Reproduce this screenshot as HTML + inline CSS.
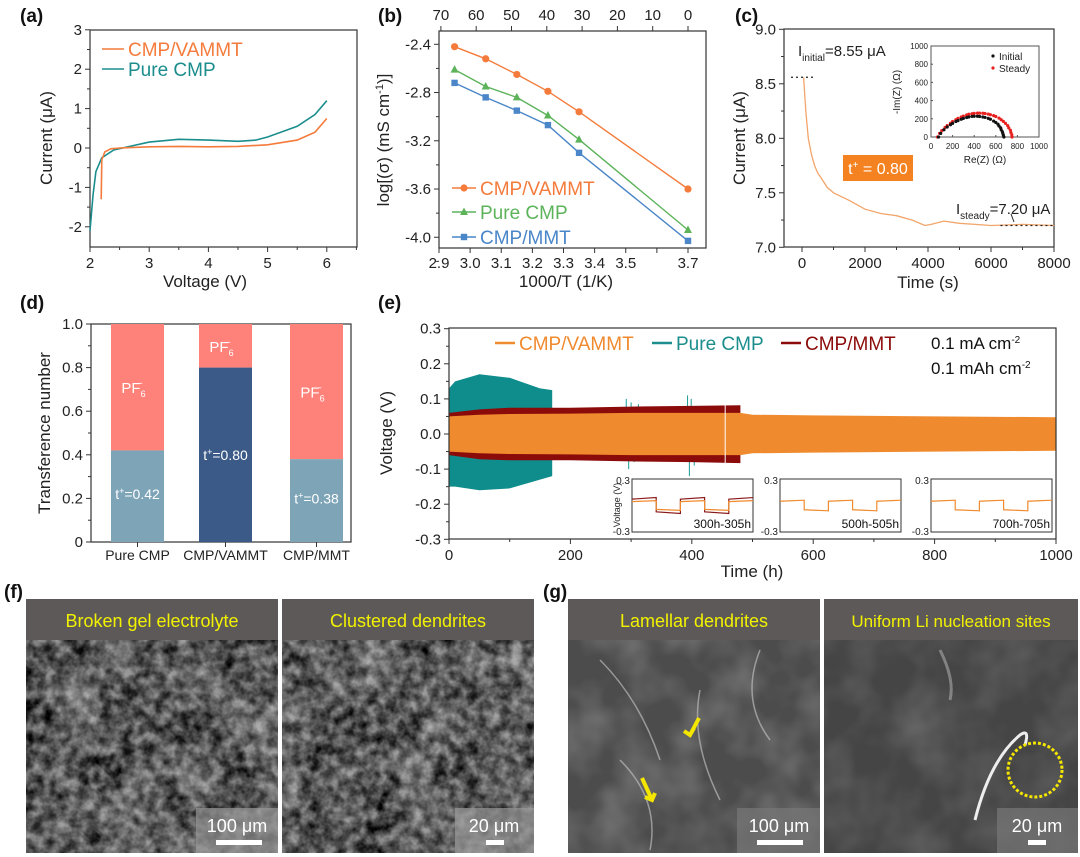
<!DOCTYPE html>
<html><head><meta charset="utf-8">
<style>
html,body{margin:0;padding:0;background:#fff;}
svg{display:block;font-family:"Liberation Sans",Arial,sans-serif;}
.tk{font-size:15px;fill:#222;}
.ti{font-size:17px;fill:#222;}
.pl{font-size:19px;font-weight:bold;fill:#111;}
.nar{font-family:"Liberation Sans Narrow","Liberation Sans",sans-serif;}
</style></head>
<body>
<svg id="fig" width="1080" height="857" viewBox="0 0 1080 857" xmlns="http://www.w3.org/2000/svg">
<defs>
<filter id="semA" x="0" y="0" width="100%" height="100%"><feTurbulence type="fractalNoise" baseFrequency="0.09" numOctaves="3" seed="3"/><feColorMatrix type="matrix" values="0 0 0 0 0  0 0 0 0 0  0 0 0 0 0  0 0 0 -1.6 1.3"/></filter>
<filter id="semB" x="0" y="0" width="100%" height="100%"><feTurbulence type="fractalNoise" baseFrequency="0.02" numOctaves="3" seed="7"/><feColorMatrix type="matrix" values="0 0 0 0 1  0 0 0 0 1  0 0 0 0 1  0 0 0 0.7 -0.25"/></filter>
</defs>

<text class="pl" x="20" y="22">(a)</text>
<text class="pl" x="378" y="22">(b)</text>
<text class="pl" x="735" y="22">(c)</text>
<text class="pl" x="20" y="309">(d)</text>
<text class="pl" x="378" y="309">(e)</text>
<text class="pl" x="4" y="598">(f)</text>
<text class="pl" x="543" y="598">(g)</text>

<text class="ti" x="205" y="287" text-anchor="middle">Voltage (V)</text>
<text class="ti" transform="translate(52,138) rotate(-90)" text-anchor="middle">Current (μA)</text>
<text class="ti" x="566" y="287" text-anchor="middle">1000/T (1/K)</text>
<text class="ti" transform="translate(389,140) rotate(-90)" text-anchor="middle">log[(σ) (mS cm<tspan dy="-6" font-size="11">-1</tspan><tspan dy="6">)]</tspan></text>
<text class="ti" x="928" y="288" text-anchor="middle">Time (s)</text>
<text class="ti" transform="translate(745,138) rotate(-90)" text-anchor="middle">Current (μA)</text>
<text class="ti" transform="translate(50,433) rotate(-90)" text-anchor="middle">Transference number</text>
<text class="ti" x="752" y="577" text-anchor="middle">Time (h)</text>
<text class="ti" transform="translate(392,433) rotate(-90)" text-anchor="middle">Voltage (V)</text>

<g id="g-a"></g>
<g id="g-b"></g>
<g id="g-c"></g>
<g id="g-d"></g>
<g id="g-e"></g>

<g>
 <g>
  <rect x="26" y="599" width="252" height="41" fill="#5d5958"/>
  <text x="152" y="627" text-anchor="middle" font-size="18" fill="#f2f200" class="nar">Broken gel electrolyte</text>
  <rect x="26" y="640" width="252" height="213" fill="#8a8a8a"/>
  <rect x="26" y="640" width="252" height="213" filter="url(#semA)"/>
  <rect x="26" y="640" width="252" height="213" filter="url(#semB)"/>
  <rect x="196" y="808" width="82" height="45" fill="#999" opacity="0.7"/>
  <text x="237" y="832" text-anchor="middle" font-size="18" fill="#fff">100 μm</text>
  <rect x="216" y="840" width="46" height="5" fill="#fff"/>
 </g>
 <g>
  <rect x="282" y="599" width="252" height="41" fill="#5d5958"/>
  <text x="408" y="627" text-anchor="middle" font-size="18" fill="#f2f200" class="nar">Clustered dendrites</text>
  <rect x="282" y="640" width="252" height="213" fill="#8d8d8d"/>
  <rect x="282" y="640" width="252" height="213" filter="url(#semA)"/>
  <rect x="282" y="640" width="252" height="213" filter="url(#semB)"/>
  <rect x="455" y="808" width="79" height="45" fill="#999" opacity="0.7"/>
  <text x="494" y="832" text-anchor="middle" font-size="18" fill="#fff">20 μm</text>
  <rect x="486" y="840" width="18" height="5" fill="#fff"/>
 </g>
 <g>
  <rect x="568" y="599" width="252" height="41" fill="#5d5958"/>
  <text x="694" y="627" text-anchor="middle" font-size="18" fill="#f2f200" class="nar">Lamellar dendrites</text>
  <rect x="568" y="640" width="252" height="213" fill="#4c4c4c"/>
  <rect x="568" y="640" width="252" height="213" filter="url(#semB)" opacity="0.6"/>
  <path d="M600 660 Q640 700 660 760 M700 690 Q690 740 720 800 M760 650 Q740 700 770 740 M620 760 Q660 800 650 850" stroke="#bbb" stroke-width="1.5" fill="none" opacity="0.7"/>
  <path d="M699 718 L690 735 M684 731 L690 735 L694 728" stroke="#f5e600" stroke-width="4" fill="none"/>
  <path d="M642 778 L652 800 M645 797 L652 800 L655 793" stroke="#f5e600" stroke-width="4" fill="none"/>
  <rect x="737" y="808" width="83" height="45" fill="#777" opacity="0.7"/>
  <text x="779" y="832" text-anchor="middle" font-size="18" fill="#fff">100 μm</text>
  <rect x="757" y="840" width="46" height="5" fill="#fff"/>
 </g>
 <g>
  <rect x="824" y="599" width="254" height="41" fill="#5d5958"/>
  <text x="951" y="627" text-anchor="middle" font-size="17" fill="#f2f200" class="nar">Uniform Li nucleation sites</text>
  <rect x="824" y="640" width="254" height="213" fill="#454545"/>
  <rect x="824" y="640" width="254" height="213" filter="url(#semB)" opacity="0.4"/>
  <path d="M975 820 Q990 760 1020 735 Q1030 728 1025 745" stroke="#eee" stroke-width="3" fill="none"/>
  <path d="M940 650 Q955 680 950 700" stroke="#aaa" stroke-width="3" fill="none" opacity="0.6"/>
  <circle cx="1035" cy="770" r="27" fill="none" stroke="#f5e600" stroke-width="3" stroke-dasharray="3 2"/>
  <rect x="997" y="808" width="81" height="45" fill="#777" opacity="0.7"/>
  <text x="1037" y="832" text-anchor="middle" font-size="18" fill="#fff">20 μm</text>
  <rect x="1028" y="840" width="18" height="5" fill="#fff"/>
 </g>
</g>
</svg>

<script>
const aVammtV = [2.19,2.2,2.25,2.35,2.5,3,3.5,4,4.5,5,5.5,5.8,6];
const aVammtI = [-1.3,-0.3,-0.1,-0.02,0.0,0.03,0.04,0.03,0.04,0.08,0.2,0.4,0.75];
const aPureV = [2.0,2.05,2.1,2.2,2.4,2.7,3,3.5,4,4.5,4.8,5,5.5,5.8,6];
const aPureI = [-2.1,-1.2,-0.6,-0.25,-0.05,0.05,0.15,0.22,0.2,0.17,0.2,0.28,0.55,0.85,1.2];
const aXTicks = [2,3,4,5,6];
const aYTicks = [-2,-1,0,1,2,3];
const bX = [2.95,3.05,3.15,3.25,3.35,3.7];
const bVammt = [-2.42,-2.52,-2.65,-2.79,-2.96,-3.60];
const bPure = [-2.61,-2.75,-2.84,-2.99,-3.19,-3.94];
const bMmt = [-2.72,-2.84,-2.95,-3.07,-3.30,-4.03];
const bXTicks = [2.9,3.0,3.1,3.2,3.3,3.4,3.5,3.6,3.7];
const bXLabels = ["2.9","3.0","3.1","3.2","3.3","3.4","3.5","","3.7"];
const bYTicks = [-2.4,-2.8,-3.2,-3.6,-4.0];
const bTopTicks = [70,60,50,40,30,20,10,0];
const cT = [50,120,200,300,400,500,600,800,1000,1500,2000,2500,3000,3500,3900,4100,4500,5000,5500,6000,7000,8000];
const cI = [8.56,8.25,8.0,7.85,7.75,7.68,7.64,7.55,7.5,7.43,7.35,7.31,7.29,7.25,7.2,7.21,7.24,7.22,7.21,7.2,7.21,7.2];
const cXTicks = [0,2000,4000,6000,8000];
const cYTicks = [7.0,7.5,8.0,8.5,9.0];
const impInitRe = [70,90,120,150,180,200,230,250,280,300,330,350,380,400,430,450,480,500,530,550,580,600,620,630,645,650,660,665,670,675];
const impInitIm = [0,40,80,110,135,150,170,180,195,205,214,220,226,228,228,225,220,215,205,195,175,160,140,120,100,80,60,40,20,0];
const impSteadyRe = [60,80,100,130,150,180,200,230,250,280,300,330,350,380,400,430,450,480,500,530,550,580,600,630,650,670,690,710,720,735,740,748,750];
const impSteadyIm = [0,40,70,105,125,152,170,190,205,220,230,242,250,256,260,262,262,261,258,252,245,235,225,208,190,172,150,125,100,75,50,25,0];
const inTicks = [0,200,400,600,800,1000];
const dCats = ["Pure CMP","CMP/VAMMT","CMP/MMT"];
const dLi = [0.42,0.80,0.38];
const eOrT = [0,50,100,200,300,400,480,500,600,800,1000];
const eOrHi = [0.05,0.055,0.057,0.058,0.06,0.06,0.06,0.055,0.053,0.05,0.048];
const eOrLo = [-0.05,-0.055,-0.057,-0.058,-0.06,-0.06,-0.06,-0.055,-0.053,-0.05,-0.048];
const eRdT = [0,50,100,200,300,400,480];
const eRdHi = [0.06,0.07,0.075,0.075,0.078,0.08,0.082];
const eRdLo = [-0.06,-0.072,-0.075,-0.075,-0.078,-0.08,-0.083];
const eTlT = [0,10,50,100,150,170];
const eTlHi = [0.13,0.15,0.17,0.16,0.13,0.125];
const eTlLo = [-0.15,-0.15,-0.16,-0.155,-0.13,-0.12];
const eSpikeT = [292,296,300,305,312,393,396,399,404];
const eSpikeV = [0.1,-0.1,0.09,-0.08,0.085,0.11,-0.12,0.1,-0.09];
const eXTicks = [0,200,400,600,800,1000];
const eYTicks = [-0.3,-0.2,-0.1,0.0,0.1,0.2,0.3];
const insetSwitch = [301,302,303,304];
const insetOrange = [0.055,0.06,0.06];
const insetRed = [0.09];
const insetNames = ["300h-305h","500h-505h","700h-705h"];

const NS="http://www.w3.org/2000/svg";
function mk(parent,tag,attrs,txt){const e=document.createElementNS(NS,tag);for(const k in attrs)e.setAttribute(k,attrs[k]);if(txt!==undefined)e.textContent=txt;parent.appendChild(e);return e;}
function pts(xs,ys,fx,fy){return xs.map((x,i)=>fx(x).toFixed(1)+","+fy(ys[i]).toFixed(1)).join(" ");}
function fmt(v,d){return v.toFixed(d);}

(function(){
 const g=document.getElementById('g-a');
 const X=v=>90+(v-2)*59.2, Y=i=>148-i*39.4;
 const box=mk(g,'rect',{x:90,y:30,width:267,height:217,fill:'none',stroke:'#333','stroke-width':1.2});
 
 
 aXTicks.forEach(v=>{mk(g,'line',{x1:X(v),x2:X(v),y1:247,y2:252,stroke:'#333'});
  const t=mk(g,'text',{x:X(v),y:268,'text-anchor':'middle',class:'tk'},String(v));
  
  
  mk(g,'line',{x1:X(v+0.5),x2:X(v+0.5),y1:247,y2:250,stroke:'#333'});});
 aYTicks.forEach(v=>{mk(g,'line',{x1:85,x2:90,y1:Y(v),y2:Y(v),stroke:'#333'});
  const t=mk(g,'text',{x:82,y:Y(v)+5,'text-anchor':'end',class:'tk'},String(v));
  
  
  if(v<3)mk(g,'line',{x1:87,x2:90,y1:Y(v+0.5),y2:Y(v+0.5),stroke:'#333'});});
 const l1=mk(g,'polyline',{points:pts(aPureV,aPureI,X,Y),fill:'none',stroke:'#1b8d8d','stroke-width':1.6});
 
 
 const l2=mk(g,'polyline',{points:pts(aVammtV,aVammtI,X,Y),fill:'none',stroke:'#f47b3b','stroke-width':1.6});
 
 
 mk(g,'line',{x1:102,x2:124,y1:49,y2:49,stroke:'#f47b3b','stroke-width':1.5});
 const lg1=mk(g,'text',{x:128,y:56,'font-size':19,fill:'#f47b3b'},'CMP/VAMMT');
 
 
 mk(g,'line',{x1:102,x2:124,y1:69,y2:69,stroke:'#1b8d8d','stroke-width':1.5});
 const lg2=mk(g,'text',{x:128,y:76,'font-size':19,fill:'#1b8d8d'},'Pure CMP');
 
 
})();

(function(){
 const g=document.getElementById('g-b');
 const X=x=>439+(x-2.9)*311.25, Y=v=>44.3-(v+2.4)*120.6;
 const TX=T=>688-T*3.53;
 const box=mk(g,'rect',{x:439,y:31,width:267,height:217,fill:'none',stroke:'#333','stroke-width':1.2});
 
 
 bXTicks.forEach((v,i)=>{mk(g,'line',{x1:X(v),x2:X(v),y1:248,y2:253,stroke:'#333'});
  const t=mk(g,'text',{x:X(v),y:268,'text-anchor':'middle',class:'tk'},bXLabels[i]);
  
  });
 bTopTicks.forEach(T=>{const x=TX(T);mk(g,'line',{x1:x,x2:x,y1:26,y2:31,stroke:'#333'});
  const t=mk(g,'text',{x:x,y:20,'text-anchor':'middle',class:'tk'},String(T));
  
  });
 bYTicks.forEach(v=>{mk(g,'line',{x1:434,x2:439,y1:Y(v),y2:Y(v),stroke:'#333'});
  mk(g,'line',{x1:436,x2:439,y1:Y(v-0.2),y2:Y(v-0.2),stroke:'#333'});
  const t=mk(g,'text',{x:431,y:Y(v)+5,'text-anchor':'end',class:'tk'},fmt(v,1));
  
  });
 const series=[[bVammt,'#f47b3b','c','cmp-vammt'],[bPure,'#5cb35a','t','pure-cmp'],[bMmt,'#4a86c8','s','cmp-mmt']];
 series.forEach(([ys,col,sh,nm])=>{
  const ln=mk(g,'polyline',{points:pts(bX,ys,X,Y),fill:'none',stroke:col,'stroke-width':1.4});
  
  
  bX.forEach((x,i)=>{const cx=X(x),cy=Y(ys[i]);let m;
   if(sh==='c')m=mk(g,'circle',{cx:cx,cy:cy,r:3.6,fill:col});
   else if(sh==='t')m=mk(g,'polygon',{points:`${cx},${cy-4.5} ${cx-4},${cy+3} ${cx+4},${cy+3}`,fill:col});
   else m=mk(g,'rect',{x:cx-3.2,y:cy-3.2,width:6.4,height:6.4,fill:col});
   
   });
 });
 const leg=[['CMP/VAMMT','#f47b3b','c',188],['Pure CMP','#5cb35a','t',212],['CMP/MMT','#4a86c8','s',237]];
 leg.forEach(([txt,col,sh,y])=>{mk(g,'line',{x1:452,x2:476,y1:y,y2:y,stroke:col,'stroke-width':1.4});
  if(sh==='c')mk(g,'circle',{cx:464,cy:y,r:3.6,fill:col});
  else if(sh==='t')mk(g,'polygon',{points:`464,${y-4.5} 460,${y+3} 468,${y+3}`,fill:col});
  else mk(g,'rect',{x:460.8,y:y-3.2,width:6.4,height:6.4,fill:col});
  const t=mk(g,'text',{x:480,y:y+7,'font-size':19,fill:col},txt);
  
  });
})();

(function(){
 const g=document.getElementById('g-c');
 const X=t=>802+t*0.0315, Y=I=>29.3+(9-I)*109;
 const box=mk(g,'rect',{x:784,y:29,width:270,height:218,fill:'none',stroke:'#333','stroke-width':1.2});
 
 
 cXTicks.forEach(v=>{mk(g,'line',{x1:X(v),x2:X(v),y1:247,y2:252,stroke:'#333'});
  if(v<8000)mk(g,'line',{x1:X(v+1000),x2:X(v+1000),y1:247,y2:250,stroke:'#333'});
  const t=mk(g,'text',{x:X(v),y:268,'text-anchor':'middle',class:'tk'},String(v));
  
  });
 cYTicks.forEach(v=>{mk(g,'line',{x1:779,x2:784,y1:Y(v),y2:Y(v),stroke:'#333'});
  if(v<9)mk(g,'line',{x1:781,x2:784,y1:Y(v+0.25),y2:Y(v+0.25),stroke:'#333'});
  const t=mk(g,'text',{x:776,y:Y(v)+5,'text-anchor':'end',class:'tk'},fmt(v,1));
  
  });
 const cur=mk(g,'polyline',{points:pts(cT,cI,X,Y),fill:'none',stroke:'#f2a56b','stroke-width':1.3});
 
 
 mk(g,'line',{x1:791,x2:816,y1:Y(8.56),y2:Y(8.56),stroke:'#222','stroke-dasharray':'2 3','stroke-width':1.2});
 mk(g,'line',{x1:X(6300),x2:1054,y1:Y(7.2),y2:Y(7.2),stroke:'#222','stroke-dasharray':'2 3','stroke-width':1.2});
 const it=mk(g,'text',{x:798,y:56,'font-size':15,fill:'#222'});it.innerHTML='I<tspan dy="5" font-size="10">initial</tspan><tspan dy="-5">=8.55 μA</tspan>';
 
 
 const st=mk(g,'text',{x:956,y:214,'font-size':15,fill:'#222'});st.innerHTML='I<tspan dy="5" font-size="10">steady</tspan><tspan dy="-5">=7.20 μA</tspan>';
 
 
 mk(g,'line',{x1:1011,x2:1014,y1:214,y2:222,stroke:'#222'});
 const tb=mk(g,'rect',{x:843,y:155,width:70,height:26,fill:'#f58220'});
 
 
 const tt=mk(g,'text',{x:878,y:174,'text-anchor':'middle','font-size':16,fill:'#fff'});tt.innerHTML='t<tspan dy="-6" font-size="10">+</tspan><tspan dy="6"> = 0.80</tspan>';
 const IX=r=>931+r*0.108, IY=z=>137-z*0.091;
 const ib=mk(g,'rect',{x:931,y:46,width:108,height:91,fill:'#fff',stroke:'#555','stroke-width':1});
 
 
 inTicks.forEach(v=>{mk(g,'text',{x:IX(v),y:149,'text-anchor':'middle','font-size':8,fill:'#222'},String(v));
  mk(g,'text',{x:928,y:IY(v)+3,'text-anchor':'end','font-size':8,fill:'#222'},String(v));
  mk(g,'line',{x1:IX(v),x2:IX(v),y1:137,y2:135,stroke:'#555'});mk(g,'line',{x1:931,x2:933,y1:IY(v),y2:IY(v),stroke:'#555'});});
 mk(g,'text',{x:985,y:163,'text-anchor':'middle','font-size':10,fill:'#222'},'Re(Z) (Ω)');
 mk(g,'text',{transform:'translate(900,92) rotate(-90)','text-anchor':'middle','font-size':10,fill:'#222'},'-Im(Z) (Ω)');
 impSteadyRe.forEach((r,i)=>{const d=mk(g,'circle',{cx:IX(r),cy:IY(impSteadyIm[i]),r:1.6,fill:'#e8201e'});
  
  });
 impInitRe.forEach((r,i)=>{const d=mk(g,'circle',{cx:IX(r),cy:IY(impInitIm[i]),r:1.6,fill:'#111'});
  
  });
 mk(g,'circle',{cx:993,cy:56,r:1.6,fill:'#111'});
 mk(g,'text',{x:999,y:60,'font-size':10,fill:'#222'},'Initial');
 mk(g,'circle',{cx:993,cy:68,r:1.6,fill:'#e8201e'});
 mk(g,'text',{x:999,y:72,'font-size':10,fill:'#222'},'Steady');
})();

(function(){
 const g=document.getElementById('g-d');
 const Y=v=>542-v*218, cx=[137.5,225.5,316.5], w=53;
 const box=mk(g,'rect',{x:91,y:324,width:260,height:218,fill:'none',stroke:'#333','stroke-width':1.2});
 
 
 [0,0.2,0.4,0.6,0.8,1.0].forEach(v=>{mk(g,'line',{x1:86,x2:91,y1:Y(v),y2:Y(v),stroke:'#333'});
  if(v<1)mk(g,'line',{x1:88,x2:91,y1:Y(v+0.1),y2:Y(v+0.1),stroke:'#333'});
  const t=mk(g,'text',{x:83,y:Y(v)+5,'text-anchor':'end',class:'tk'},v===0?'0':fmt(v,1));
  
  });
 dCats.forEach((c,i)=>{
  const x=cx[i]-w/2;
  const top=mk(g,'rect',{x:x,y:Y(1),width:w,height:Y(dLi[i])-Y(1),fill:'#ff827a'});
  
  
  const bot=mk(g,'rect',{x:x,y:Y(dLi[i]),width:w,height:Y(0)-Y(dLi[i]),fill:i===1?'#3b5a88':'#7ea5b7'});
  
  
  mk(g,'line',{x1:cx[i],x2:cx[i],y1:542,y2:547,stroke:'#333'});
  const lab=mk(g,'text',{x:cx[i],y:560,'text-anchor':'middle','font-size':14,fill:'#222'},c);
  
  
  const ty=i===1?Y(dLi[i]/2)+5:Y(dLi[i]/2)+3;
  const lt=mk(g,'text',{x:cx[i],y:ty,'text-anchor':'middle','font-size':14,fill:'#fff'});
  lt.innerHTML='t<tspan dy="-5" font-size="9">+</tspan><tspan dy="5">='+fmt(dLi[i],2)+'</tspan>';
  const pf=mk(g,'text',{x:cx[i]-4,y:Y((1+dLi[i])/2)+6,'text-anchor':'middle','font-size':15,fill:'#fff'});
  pf.innerHTML='PF<tspan dy="4" font-size="9">6</tspan><tspan dy="-11" dx="-6" font-size="9">-</tspan>';
 });
})();

(function(){
 const g=document.getElementById('g-e');
 const X=t=>449+t*0.607, Y=v=>434-v*351;
 function band(ts,hi,lo,col,nm){
  const p=ts.map((t,i)=>X(t).toFixed(1)+','+Y(hi[i]).toFixed(1)).concat(ts.slice().reverse().map((t,i)=>X(t).toFixed(1)+','+Y(lo[ts.length-1-i]).toFixed(1))).join(' ');
  const e=mk(g,'polygon',{points:p,fill:col});
  
  
 }
 band(eTlT,eTlHi,eTlLo,'#0f8c8c','pure-cmp-voltage-band');
 eSpikeT.forEach((t,i)=>{const s=mk(g,'line',{x1:X(t),x2:X(t),y1:Y(0),y2:Y(eSpikeV[i]),stroke:'#1b9a9a','stroke-width':1});
  
  });
 band(eRdT,eRdHi,eRdLo,'#8b0a0a','cmp-mmt-voltage-band');
 band(eOrT,eOrHi,eOrLo,'#f08a2e','cmp-vammt-voltage-band');
 mk(g,'line',{x1:X(455),x2:X(455),y1:Y(0.09),y2:Y(-0.09),stroke:'#fff','stroke-width':1});
 const box=mk(g,'rect',{x:449,y:328,width:607,height:211,fill:'none',stroke:'#333','stroke-width':1.2});
 
 
 eXTicks.forEach(v=>{mk(g,'line',{x1:X(v),x2:X(v),y1:539,y2:544,stroke:'#333'});
  if(v<1000)mk(g,'line',{x1:X(v+100),x2:X(v+100),y1:539,y2:542,stroke:'#333'});
  const t=mk(g,'text',{x:X(v),y:560,'text-anchor':'middle',class:'tk'},String(v));
  
  });
 eYTicks.forEach(v=>{mk(g,'line',{x1:444,x2:449,y1:Y(v),y2:Y(v),stroke:'#333'});
  if(v<0.3)mk(g,'line',{x1:446,x2:449,y1:Y(v+0.05),y2:Y(v+0.05),stroke:'#333'});
  const t=mk(g,'text',{x:441,y:Y(v)+5,'text-anchor':'end',class:'tk'},fmt(v,1));
  
  });
 const leg=[['CMP/VAMMT','#f08a2e',495],['Pure CMP','#1b8d8d',652],['CMP/MMT','#8b0a0a',781]];
 leg.forEach(([txt,col,x])=>{mk(g,'line',{x1:x,x2:x+20,y1:343,y2:343,stroke:col,'stroke-width':2.5});
  const t=mk(g,'text',{x:x+24,y:350,'font-size':19,fill:col,class:'nar'},txt);
  
  });
 const c1=mk(g,'text',{x:931,y:349,'font-size':17,fill:'#111',class:'nar'});c1.innerHTML='0.1 mA cm<tspan dy="-6" font-size="10">-2</tspan>';
 
 
 const c2=mk(g,'text',{x:931,y:374,'font-size':17,fill:'#111',class:'nar'});c2.innerHTML='0.1 mAh cm<tspan dy="-6" font-size="10">-2</tspan>';
 
 
 const ix0=[632,780,931], iw=121, iy0=479, ih=53;
 ix0.forEach((x0,k)=>{
  const base=[300,500,700][k];
  const IX=t=>x0+(t-base)/5*iw, IY=v=>iy0+ih/2-v/0.3*(ih/2);
  const fr=mk(g,'rect',{x:x0,y:iy0,width:iw,height:ih,fill:'#fff',stroke:'#333','stroke-width':1});
  
  
  mk(g,'text',{x:x0-2,y:iy0+5,'text-anchor':'end','font-size':10,fill:'#222'},'0.3');
  mk(g,'text',{x:x0-2,y:iy0+ih+3,'text-anchor':'end','font-size':10,fill:'#222'},'-0.3');
  function wave(amp,col,nm){
   let d=`M${IX(base)},${IY(amp*0.8)}`;let s=1;
   insetSwitch.forEach(sw=>{const t=sw-300+base;d+=` L${IX(t)},${IY(s*amp)} L${IX(t)},${IY(-s*amp*0.8)}`;s=-s;});
   d+=` L${IX(base+5)},${IY(s*amp)}`;
   const p=mk(g,'path',{d:d,fill:'none',stroke:col,'stroke-width':1.2});
   
   
  }
  if(k===0)wave(insetRed[0],'#8b1a1a','inset-cmp-mmt-wave');
  wave(insetOrange[k],'#f08a2e','inset-cmp-vammt-wave');
  mk(g,'text',{x:x0+iw-2,y:iy0+ih-4,'text-anchor':'end','font-size':12,fill:'#111',class:'nar'},insetNames[k]);
 });
 mk(g,'text',{transform:'translate(620,505) rotate(-90)','text-anchor':'middle','font-size':9,fill:'#222'},'Voltage (V)');
})();
</script>
</body></html>
